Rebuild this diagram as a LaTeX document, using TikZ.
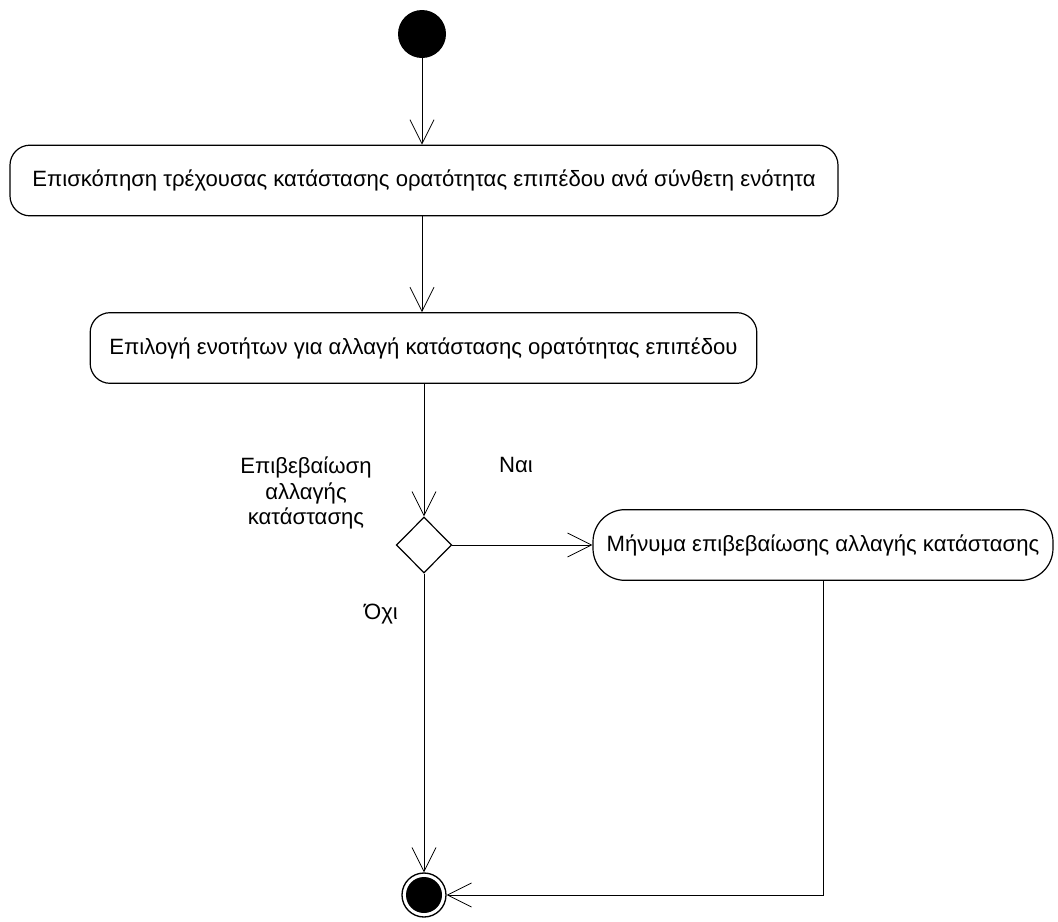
\documentclass[tikz,border=0pt]{standalone}
\usepackage{fontspec}
\setmainfont{Liberation Sans}
\usetikzlibrary{arrows.meta,shapes.geometric}
\begin{document}
\begin{tikzpicture}[x=0.75pt,y=-0.75pt,
  txt/.style={font=\fontsize{16.6}{19.2}\selectfont},
  action/.style={draw,line width=0.9pt,rounded corners=15pt,inner sep=0pt,
    minimum height=53pt,txt},
  msgbox/.style={action,rounded corners=24pt},
  startnode/.style={circle,fill=black,minimum size=36pt,inner sep=0pt},
  endnode/.style={circle,draw,line width=1pt,minimum size=33pt,inner sep=0pt,
    path picture={\fill[black] (path picture bounding box.center) circle (13.5pt);}},
  decision/.style={diamond,draw,line width=0.9pt,minimum width=41.5pt,
    minimum height=42pt,inner sep=0pt},
  flow/.style={line width=0.6pt,
    -{Straight Barb[length=18pt,width=18pt,line width=0.6pt]}},
  lbl/.style={txt,align=center}]
\useasboundingbox (0,0) rectangle (1058,922);
\fill[white] (0,0) rectangle (1058,922);

% activity nodes
\node[startnode] (start) at (422,34) {};
\node[action,minimum width=621pt] (view) at (424,180.5)
  {Επισκόπηση τρέχουσας κατάστασης ορατότητας επιπέδου ανά σύνθετη ενότητα};
\node[action,minimum width=500pt] (select) at (423.5,348)
  {Επιλογή ενοτήτων για αλλαγή κατάστασης ορατότητας επιπέδου};
\node[decision] (dec) at (424,545) {};
\node[msgbox,minimum width=345pt] (msg) at (823,545)
  {Μήνυμα επιβεβαίωσης αλλαγής κατάστασης};
\node[endnode] (stop) at (424,895) {};

% labels
\node[lbl] (declbl) at (306,493) {Επιβεβαίωση\\αλλαγής\\κατάστασης};
\node[txt] (yes) at (516,465) {Ναι};
\node[txt] (no) at (381,614) {Όχι};

% transitions
\draw[flow] (start) -- (view.north -| start);
\draw[flow] (view.south -| start) -- (select.north -| start);
\draw[flow] (select.south -| dec) -- (dec.north);
\draw[flow] (dec.east) -- (msg.west);
\draw[flow] (dec.south) -- (stop.north);
\draw[flow] (msg.south) |- (stop.east);
\end{tikzpicture}
\end{document}
